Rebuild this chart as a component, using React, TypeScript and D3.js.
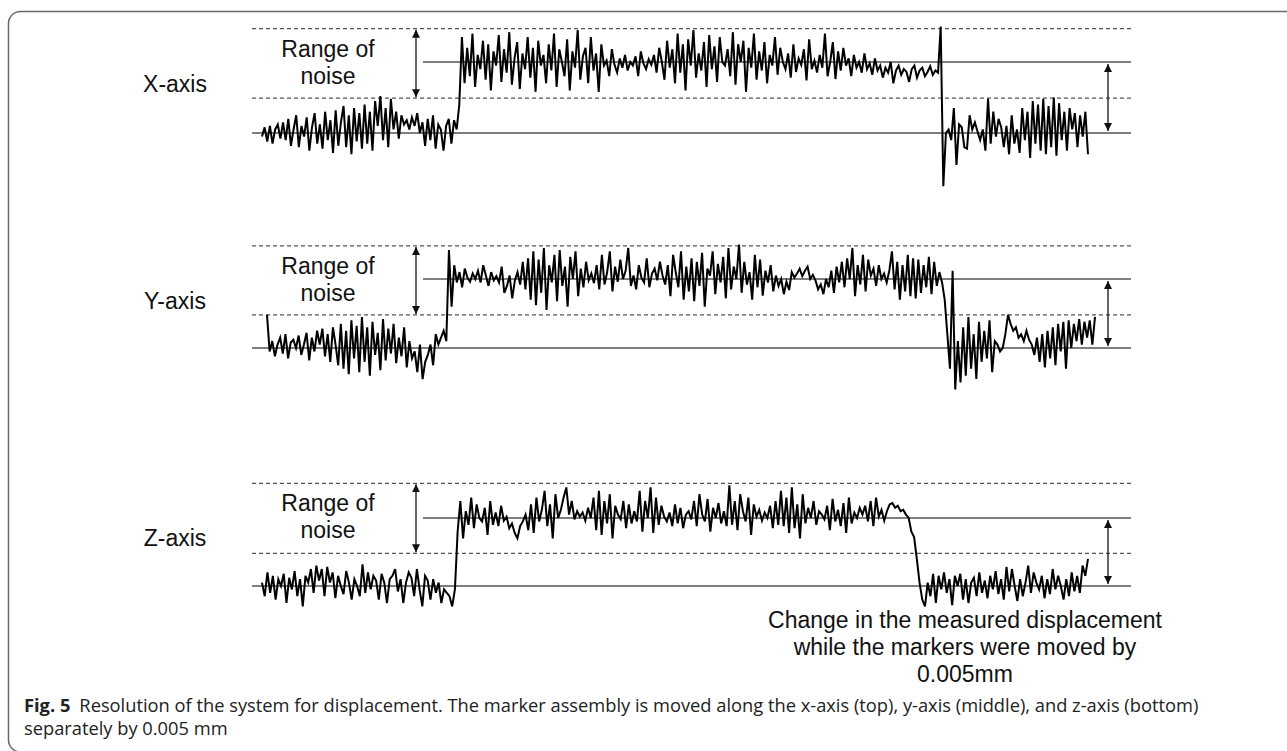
import React from "react";
import * as d3 from "d3";

// Signal samples (0 = lower level, 100 = upper level after the 0.005 mm move)
const xSignal = [
  -5, 8, -12, 10, -15, 5, 12, -8, 15, -10,
  20, -18, 5, 25, -20, 10, -5, 22, -25, 8,
  28, -15, 12, -22, 30, -10, 18, -28, 32, -18,
  15, 38, -20, 25, -30, 35, -12, 28, -22, 40,
  -15, 30, -25, 45, 10, 52, -10, 35, -20, 48,
  5, 30, -8, 25, 12, 18, 5, 22, 10, 28,
  0, 15, -18, 20, -10, 25, -22, 12, 5, -25,
  10, 20, -15, 18, 5, 40,
  135, 70, 120, 80, 140, 65, 110, 90, 130, 75,
  125, 60, 115, 95, 138, 72, 118, 85, 142, 68,
  105, 128, 62, 112, 90, 135, 78, 120, 58, 130,
  95, 110, 70, 125, 88, 140, 65, 118, 100, 80,
  132, 60, 115, 92, 145, 75, 108, 120, 70, 135,
  88, 112, 58, 125, 95, 102, 80, 118, 96, 85,
  105, 92, 110, 88, 100, 95, 108, 80, 115, 98,
  90, 104, 96, 110, 85, 120, 100, 75, 130, 92,
  118, 70, 140, 85, 125, 60, 132, 95, 145, 78,
  112, 88, 128, 65, 138, 90, 122, 72, 135, 100,
  95, 118, 80, 142, 68, 125, 100, 130, 58, 120,
  92, 140, 75, 115, 88, 128, 70, 110, 95, 135,
  82, 120, 100, 90, 112, 78, 125, 86, 105, 96,
  118, 74, 132, 90, 102, 85, 110, 92, 140, 80,
  100, 128, 76, 115, 88, 120, 95, 105, 80, 110,
  92, 100, 85, 112, 90, 98, 82, 105, 88, 95,
  78, 92, 85, 100, 70, 88, 95, 82, 90, 86,
  72, 90, 95, 78, 88, 92, 80, 86, 94, 82, 88, 85,
  150, -75,
  0, 5, -10, 35, -45, 12, 8, -20, -22, 25,
  5, 15, 2, -10, 5, -25, 48, -15, 30, -5,
  20, 8, -20, 10, -30, 25, -15, 5, -28, 35,
  -10, 30, -35, 45, -15, 40, -25, 48, -30, 38,
  -20, 50, -32, 42, -10, 30, -25, 35, 5, 28,
  -20, 25, -5, 30, -30,
];

const ySignal = [
  48, -5, 10, -12, 5, 15, -8, 20, -15, 8,
  12, 0, 18, -10, 5, 22, -18, 15, -5, 25,
  5, 28, -12, 20, -20, 30, 5, -25, 35, -30,
  25, -38, 40, -15, 32, -35, 45, -20, 30, -40,
  38, -10, 22, -32, 42, -18, 28, -8, 35, -22,
  15, -12, 30, -28, 10, -15, -5, -35, 5, -45,
  -20, -10, 5, -25, 20, 5, 15, 25, 10,
  142, 60, 120, 95, 110, 88, 115, 102, 96, 108,
  100, 112, 95, 120, 105, 90, 110, 98, 104, 95,
  118, 80, 90, 105, 72, 98, 110, 92, 125, 85,
  130, 70, 140, 62, 128, 80, 145, 55, 120, 95,
  135, 68, 142, 90, 118, 60, 132, 100, 140, 75,
  115, 88, 125, 98, 108, 94, 120, 85, 135, 92,
  110, 140, 82, 118, 96, 128, 100, 112, 145, 90,
  105, 85, 120, 102, 95, 130, 88, 108, 115, 98,
  125, 105, 92, 120, 75, 135, 110, 88, 140, 70,
  118, 82, 130, 68, 125, 90, 138, 60, 115, 105,
  140, 78, 122, 95, 132, 72, 145, 85, 118, 100,
  150, 80, 125, 92, 110, 70, 135, 88, 128, 76,
  112, 95, 120, 82, 105, 90, 100, 78, 96, 84,
  110, 102, 108, 115, 104, 112, 118, 100, 106, 98,
  85, 92, 78, 100, 88, 112, 80, 118, 95, 125,
  88, 130, 100, 145, 75, 120, 92, 135, 82, 128,
  105, 115, 90, 120, 100, 108, 95, 112, 140, 85,
  125, 70, 120, 82, 135, 75, 130, 72, 128, 80,
  120, 88, 132, 78, 125, 90, 110, 95,
  70, 20, -30, 112, -60,
  10, -50, 30, -40, 45, -30, 20, -45, 38, -20,
  25, -15, 40, -35, 10, 5, -5, 0, 20, 48,
  35, 25, 30, 15, 20, 10, 25, 12, 5, -10,
  15, -20, 20, -28, 25, -15, 30, -25, 35, -5,
  38, -30, 40, 0, 35, 10, 42, 5, 38, 15,
  40, 5, 45,
];

const zSignal = [
  5, -15, 20, -10, 15, -20, 10, 0, 18, -25,
  12, -5, 22, -15, 10, -30, 15, 5, 25, -10,
  30, 8, 25, -15, 28, 5, 20, -18, 15, 0,
  -12, 22, 5, -20, 10, 0, -15, 32, -10, 20,
  -5, 15, 8, -20, 18, 5, -25, 10, 15, 25,
  -8, 10, -25, 5, 20, 12, -15, 25, -5, -30,
  15, 8, -20, 10, -10, 5, -25, -5, -10, -15,
  -30, -5,
  80, 125, 70, 110, 90, 130, 85, 120, 100, 95,
  115, 75, 125, 90, 108, 88, 118, 96, 102, 85,
  92, 78, 70, 88, 95, 105, 82, 120, 78, 130,
  95, 112, 140, 88, 120, 70, 135, 100, 112, 130,
  145, 105, 125, 98, 110, 102, 108, 96, 115, 100,
  130, 82, 140, 75, 125, 92, 135, 70, 118, 105,
  98, 125, 85, 120, 92, 110, 95, 140, 80, 125,
  100, 145, 78, 130, 90, 118, 102, 95, 108, 88,
  120, 92, 115, 85, 105, 110, 98, 125, 88, 135,
  105, 95, 128, 80, 115, 100, 122, 92, 110, 88,
  148, 90, 125, 82, 135, 110, 95, 130, 75, 120,
  102, 112, 96, 108, 100, 118, 85, 125, 90, 140,
  88, 130, 78, 145, 85, 120, 70, 135, 92, 115,
  100, 125, 90, 110, 105, 98, 118, 82, 128, 95,
  112, 88, 122, 78, 130, 92, 108, 100, 115, 105,
  118, 95, 125, 88, 130, 102, 112, 96, 110, 120,
  122, 115, 118, 110, 112, 105,
  100, 80, 72, 40, 5, -20,
  -30, 5, -15, 18, -25, 15, -5, 20, -10, 10,
  -28, 15, 0, 18, -20, 10, -25, 5, 12, -15,
  20, -10, 8, -18, 15, -5, 22, -12, 10, -20,
  28, -8, 25, 0, -22, 10, -15, 5, 30, -10,
  20, 5, -5, 15, -18, 10, -12, 25, -5, 15,
  0, -20, 10, -15, 20, -8, 15, -10, 30, 15,
  40,
];

const axisLabels = ["X-axis", "Y-axis", "Z-axis"];
const noiseLabel = ["Range of", "noise"];
// noise band [lower, upper] in signal units for each axis
const noiseBands = [
  [49, 147],
  [48, 148],
  [48, 151],
];
const changeLabel = [
  "Change in the measured displacement",
  "while the markers were moved by",
  "0.005mm",
];
const captionBold = "Fig. 5";
const captionLine1 =
  "Resolution of the system for displacement. The marker assembly is moved along the x-axis (top), y-axis (middle), and z-axis (bottom)";
const captionLine2 = "separately by 0.005 mm";

const W = 1287;
const H = 751;

const panels = [
  { data: xSignal, yLow: 133, yHigh: 62, x0: 262, x1: 1088, upperStart: 423 },
  { data: ySignal, yLow: 348, yHigh: 279, x0: 267, x1: 1095, upperStart: 423 },
  { data: zSignal, yLow: 586, yHigh: 518, x0: 262, x1: 1088, upperStart: 423 },
];

const lineLeft = 252;
const lineRight = 1131;
const leftArrowX = 416;
const rightArrowX = 1108;
const guideColor = "#555";
const textFont = "'Liberation Sans', Arial, sans-serif";
const captionFont = "'Open Sans', sans-serif";

export default function App() {
  return (
    <svg
      width={W}
      height={H}
      viewBox={`0 0 ${W} ${H}`}
      style={{ position: "absolute", left: 0, top: 0, background: "#fff" }}
    >
      <defs>
        <marker
          id="ah"
          viewBox="0 0 10 10"
          refX="10"
          refY="5"
          markerWidth="8"
          markerHeight="8"
          markerUnits="userSpaceOnUse"
          orient="auto-start-reverse"
        >
          <path d="M0,0 L10,5 L0,10 Z" fill="#111" />
        </marker>
      </defs>
      <rect x={0} y={0} width={W} height={H} fill="#fff" />
      <path
        d={`M${W},11.5 H20.5 A12,12 0 0 0 8.5,23.5 V740 A12,12 0 0 0 20.5,752`}
        fill="none"
        stroke="#6a6a6a"
        strokeWidth={1.5}
      />
      {panels.map((p, i) => {
        const x = d3
          .scaleLinear()
          .domain([0, p.data.length - 1])
          .range([p.x0, p.x1]);
        const y = d3.scaleLinear().domain([0, 100]).range([p.yLow, p.yHigh]);
        const line = d3
          .line<number>()
          .x((_, j) => x(j))
          .y((d) => y(d));
        const [bLo, bHi] = noiseBands[i];
        return (
          <g key={i}>
            <line x1={lineLeft} x2={lineRight} y1={y(bHi)} y2={y(bHi)} stroke={guideColor} strokeWidth={1.3} strokeDasharray="4 3" />
            <line x1={lineLeft} x2={lineRight} y1={y(bLo)} y2={y(bLo)} stroke={guideColor} strokeWidth={1.3} strokeDasharray="4 3" />
            <line x1={p.upperStart} x2={lineRight} y1={y(100)} y2={y(100)} stroke={guideColor} strokeWidth={1.5} />
            <line x1={lineLeft} x2={lineRight} y1={y(0)} y2={y(0)} stroke={guideColor} strokeWidth={1.5} />
            <path d={line(p.data) || ""} fill="none" stroke="#000" strokeWidth={2} strokeLinejoin="miter" />
            <line
              x1={leftArrowX}
              x2={leftArrowX}
              y1={y(bHi) + 1}
              y2={y(bLo) - 1}
              stroke="#111"
              strokeWidth={1.3}
              markerStart="url(#ah)"
              markerEnd="url(#ah)"
            />
            <line
              x1={rightArrowX}
              x2={rightArrowX}
              y1={y(100) + 2}
              y2={y(0) - 2}
              stroke="#111"
              strokeWidth={1.3}
              markerStart="url(#ah)"
              markerEnd="url(#ah)"
            />
            <text x={175} y={y(bHi) + 63} textAnchor="middle" fontFamily={textFont} fontSize={23} fill="#111">
              {axisLabels[i]}
            </text>
            <text x={328} y={y(bHi) + 28} textAnchor="middle" fontFamily={textFont} fontSize={23} fill="#111">
              {noiseLabel[0]}
            </text>
            <text x={328} y={y(bHi) + 55} textAnchor="middle" fontFamily={textFont} fontSize={23} fill="#111">
              {noiseLabel[1]}
            </text>
          </g>
        );
      })}
      {changeLabel.map((t, i) => (
        <text key={i} x={965} y={628 + i * 27} textAnchor="middle" fontFamily={textFont} fontSize={23} fill="#111">
          {t}
        </text>
      ))}
      <text x={24} y={712} fontFamily={captionFont} fontSize={18.3} fill="#222">
        <tspan fontWeight="bold">{captionBold}</tspan>
        <tspan dx={9}>{captionLine1}</tspan>
      </text>
      <text x={24} y={735} fontFamily={captionFont} fontSize={18.3} fill="#222">
        {captionLine2}
      </text>
    </svg>
  );
}
